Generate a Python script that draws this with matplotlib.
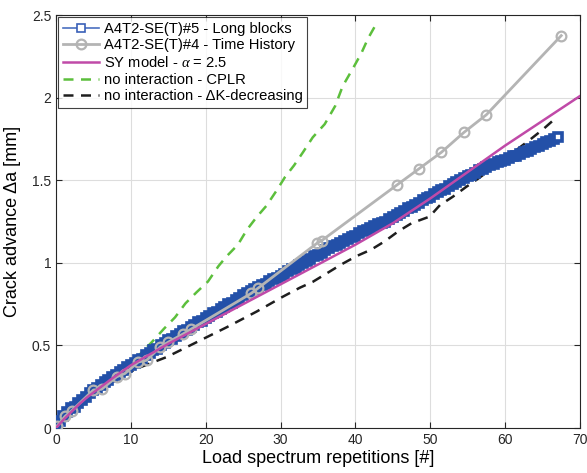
import numpy as np
import matplotlib
matplotlib.use("Agg")
import matplotlib.pyplot as plt

plt.rcParams['font.family'] = ['Liberation Sans', 'DejaVu Sans']
plt.rcParams['mathtext.fontset'] = 'custom'
plt.rcParams['mathtext.it'] = 'Liberation Serif:italic'

# --- A4T2-SE(T)#5 - Long blocks (every 0.5 repetitions from 0) ---
blue_y = [
    0.02, 0.04, 0.07, 0.10, 0.12, 0.13, 0.15, 0.17, 0.19, 0.21,
    0.23, 0.24, 0.26, 0.28, 0.29, 0.31, 0.32, 0.34, 0.35, 0.37,
    0.38, 0.395, 0.41, 0.42, 0.44, 0.455, 0.47, 0.48, 0.50, 0.515,
    0.53, 0.54, 0.555, 0.57, 0.585, 0.595, 0.61, 0.625, 0.64, 0.65,
    0.665, 0.68, 0.695, 0.705, 0.72, 0.735, 0.75, 0.76, 0.775, 0.79,
    0.805, 0.815, 0.83, 0.84, 0.855, 0.865, 0.875, 0.89, 0.905, 0.91,
    0.92, 0.935, 0.95, 0.96, 0.97, 0.985, 1.00, 1.01, 1.025, 1.04,
    1.05, 1.06, 1.075, 1.09, 1.10, 1.11, 1.12, 1.135, 1.145, 1.155,
    1.165, 1.18, 1.19, 1.20, 1.21, 1.225, 1.235, 1.24, 1.25, 1.265,
    1.28, 1.29, 1.30, 1.315, 1.33, 1.34, 1.35, 1.365, 1.38, 1.39,
    1.40, 1.415, 1.43, 1.44, 1.45, 1.465, 1.48, 1.49, 1.50, 1.515,
    1.525, 1.535, 1.545, 1.56, 1.57, 1.58, 1.59, 1.60, 1.61, 1.615,
    1.625, 1.635, 1.645, 1.65, 1.66, 1.67, 1.68, 1.69, 1.70, 1.71,
    1.72, 1.73, 1.74, 1.75, 1.76,
]
blue_x = np.arange(len(blue_y)) * 0.5

# --- A4T2-SE(T)#4 - Time History ---
gray_x = [0.1, 1.2, 2.1, 5.0, 6.1, 8.1, 9.2, 11.0, 12.1, 13.9, 15.0, 17.0, 18.1,
          26.1, 27.0, 34.9, 35.5, 45.5, 48.5, 51.5, 54.5, 57.5, 67.5]
gray_y = [0.01, 0.07, 0.105, 0.23, 0.235, 0.31, 0.33, 0.40, 0.41, 0.49, 0.52, 0.57, 0.60,
          0.816, 0.847, 1.12, 1.135, 1.47, 1.57, 1.67, 1.79, 1.897, 2.376]

# --- SY model ---
sy_x = [0, 1, 2, 3, 4, 5, 7.5, 10, 15, 20, 25, 30, 35, 40, 45, 50, 55, 60, 65, 70]
sy_y = [0, 0.05, 0.095, 0.14, 0.18, 0.215, 0.30, 0.38, 0.51, 0.63, 0.75, 0.87,
        0.99, 1.11, 1.24, 1.39, 1.55, 1.71, 1.86, 2.01]

# --- no interaction - CPLR ---
cplr_x = [0, 2, 4, 6, 8, 9.7, 11.4, 12.8, 14.4, 15.9, 17.3, 18.8, 20.3, 21.7, 22.8,
          24.3, 25.5, 26.8, 28.1, 29.5, 30.6, 31.8, 33.0, 34.3, 35.9, 37.3, 38.3,
          39.7, 40.8, 41.7, 42.9]
cplr_y = [0, 0.10, 0.19, 0.26, 0.32, 0.38, 0.455, 0.52, 0.60, 0.67, 0.755, 0.823,
          0.887, 0.98, 1.04, 1.11, 1.20, 1.277, 1.345, 1.44, 1.52, 1.59, 1.67, 1.76,
          1.84, 1.95, 2.07, 2.18, 2.27, 2.36, 2.456]

# --- no interaction - dK-decreasing ---
dk_x = [0, 2, 4, 6, 8.3, 10.8, 14.8, 18.8, 22.8, 26.8, 30.3, 32.6, 34.3, 36.3, 38.1,
        40.1, 42.1, 43.9, 45.7, 47.5, 49.9, 51.3, 53.0, 54.8, 56.4, 58.2, 59.9,
        61.7, 63.3, 65.1, 66.6]
dk_y = [0, 0.10, 0.18, 0.25, 0.30, 0.36, 0.43, 0.52, 0.61, 0.705, 0.795, 0.85, 0.885,
        0.94, 0.99, 1.04, 1.08, 1.13, 1.19, 1.24, 1.28, 1.35, 1.40, 1.46, 1.51,
        1.57, 1.62, 1.69, 1.745, 1.81, 1.87]

labels = ['A4T2-SE(T)#5 - Long blocks', 'A4T2-SE(T)#4 - Time History',
          r'SY model - $\alpha$ = 2.5', 'no interaction - CPLR',
          'no interaction - ΔK-decreasing']

fig = plt.figure(figsize=(5.87, 4.73), dpi=100)
ax = fig.add_axes([0.0954, 0.0951, 0.8926, 0.8729])

c_blue = '#2350a8'
c_gray = '#b4b4b4'
c_mag = '#c04aa8'
c_green = '#5cbf3c'
c_black = '#1e1e1e'

ax.plot(blue_x, blue_y, '-', color=c_blue, lw=1.2, marker='s', ms=6.5,
        mfc=c_blue, mec=c_blue, mew=1.2, label=labels[0], zorder=3)
ax.plot(blue_x[-1:], blue_y[-1:], 's', ms=4.5, mfc='white', mec=c_blue,
        mew=1.2, zorder=3)
ax.plot(gray_x, gray_y, '-', color=c_gray, lw=2, marker='o', ms=7,
        mfc='none', mec=c_gray, mew=1.6, label=labels[1], zorder=4)
ax.plot(sy_x, sy_y, '-', color=c_mag, lw=1.8, label=labels[2], zorder=5)
ax.plot(cplr_x, cplr_y, color=c_green, lw=1.8, linestyle=(0, (4, 3)),
        label=labels[3], zorder=2)
ax.plot(dk_x, dk_y, color=c_black, lw=1.8, linestyle=(0, (4, 3)),
        label=labels[4], zorder=2)

ax.set_xlim(0, 70)
ax.set_ylim(0, 2.5)
ax.set_xticks(np.arange(0, 71, 10))
ax.set_yticks([0, 0.5, 1, 1.5, 2, 2.5])
ax.set_yticklabels(['0', '0.5', '1', '1.5', '2', '2.5'])
ax.grid(True, color='#dddddd', lw=0.8)
ax.set_axisbelow(True)
ax.tick_params(direction='in', top=True, right=True, labelsize=10,
               colors='#262626', length=4)
for s in ax.spines.values():
    s.set_color('#262626')
    s.set_linewidth(0.8)

ax.set_xlabel('Load spectrum repetitions [#]', fontsize=13, labelpad=2)
ax.set_ylabel('Crack advance Δa [mm]', fontsize=13, labelpad=8)

leg = ax.legend(loc='upper left', fontsize=10.6, frameon=True, fancybox=False,
                edgecolor='#111111', borderaxespad=0.15, handlelength=2.5,
                handletextpad=0.3, borderpad=0.3, labelspacing=0.18)
leg.get_frame().set_linewidth(0.8)
h0 = leg.legend_handles[0]
h0.set_color('#4a70c0')
h0.set_markeredgecolor('#3a60b8')
h0.set_markerfacecolor('white')
h0.set_markersize(5.5)

fig.savefig('out.png', dpi=100)
